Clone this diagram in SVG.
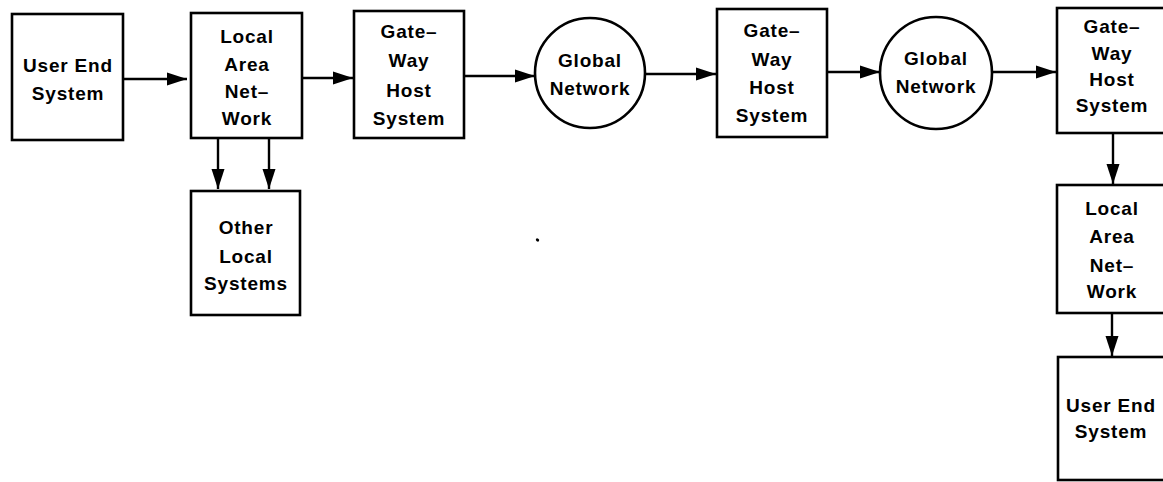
<svg xmlns="http://www.w3.org/2000/svg" width="1163" height="482" viewBox="0 0 1163 482">
  <style>
    .box { fill: #fff; stroke: #000; stroke-width: 2.6; }
    .edge { stroke: #000; stroke-width: 2.4; fill: none; }
    .lbl { font-family: "Liberation Sans", Arial, sans-serif; font-weight: bold; font-size: 19px; letter-spacing: 0.8px; text-anchor: middle; fill: #000; }
  </style>
  <defs>
    <marker id="arrow" markerUnits="userSpaceOnUse" markerWidth="21" markerHeight="14" refX="20" refY="7" orient="auto">
      <path d="M0,0.5 L20,7 L0,13.5 Z" fill="#000"/>
    </marker>
  </defs>

  <rect width="1163" height="482" fill="#fff"/>

  <g id="connectors">
    <line class="edge" x1="123" y1="79" x2="187" y2="79" marker-end="url(#arrow)"/>
    <line class="edge" x1="302" y1="78" x2="353" y2="78" marker-end="url(#arrow)"/>
    <line class="edge" x1="218" y1="138" x2="218" y2="189" marker-end="url(#arrow)"/>
    <line class="edge" x1="269" y1="138" x2="269" y2="189" marker-end="url(#arrow)"/>
    <line class="edge" x1="464" y1="76" x2="535" y2="76" marker-end="url(#arrow)"/>
    <line class="edge" x1="646" y1="74" x2="716" y2="74" marker-end="url(#arrow)"/>
    <line class="edge" x1="827" y1="72" x2="880" y2="72" marker-end="url(#arrow)"/>
    <line class="edge" x1="992" y1="72" x2="1056" y2="72" marker-end="url(#arrow)"/>
    <line class="edge" x1="1113" y1="133" x2="1113" y2="184" marker-end="url(#arrow)"/>
    <line class="edge" x1="1112" y1="313" x2="1112" y2="356" marker-end="url(#arrow)"/>
  </g>

  <g id="user-end-system-1">
    <rect class="box" x="12" y="14" width="111" height="126"/>
    <text class="lbl" x="68" y="72">User End</text>
    <text class="lbl" x="68" y="100">System</text>
  </g>

  <g id="local-area-network-1">
    <rect class="box" x="191" y="13" width="111" height="125"/>
    <text class="lbl" x="247" y="43">Local</text>
    <text class="lbl" x="247" y="71">Area</text>
    <text class="lbl" x="247" y="98">Net–</text>
    <text class="lbl" x="247" y="125">Work</text>
  </g>

  <g id="other-local-systems">
    <rect class="box" x="191" y="191" width="109" height="124"/>
    <text class="lbl" x="246" y="234">Other</text>
    <text class="lbl" x="246" y="263">Local</text>
    <text class="lbl" x="246" y="290">Systems</text>
  </g>

  <g id="gateway-host-1">
    <rect class="box" x="354" y="11" width="110" height="127"/>
    <text class="lbl" x="409" y="38">Gate–</text>
    <text class="lbl" x="409" y="67">Way</text>
    <text class="lbl" x="409" y="97">Host</text>
    <text class="lbl" x="409" y="125">System</text>
  </g>

  <g id="global-network-1">
    <circle class="box" cx="590" cy="73" r="55"/>
    <text class="lbl" x="590" y="67">Global</text>
    <text class="lbl" x="590" y="95">Network</text>
  </g>

  <g id="gateway-host-2">
    <rect class="box" x="717" y="9" width="110" height="128"/>
    <text class="lbl" x="772" y="37">Gate–</text>
    <text class="lbl" x="772" y="66">Way</text>
    <text class="lbl" x="772" y="94">Host</text>
    <text class="lbl" x="772" y="122">System</text>
  </g>

  <g id="global-network-2">
    <circle class="box" cx="936" cy="73" r="56"/>
    <text class="lbl" x="936" y="65">Global</text>
    <text class="lbl" x="936" y="93">Network</text>
  </g>

  <g id="gateway-host-3">
    <rect class="box" x="1057" y="8" width="113" height="125"/>
    <text class="lbl" x="1112" y="33">Gate–</text>
    <text class="lbl" x="1112" y="60">Way</text>
    <text class="lbl" x="1112" y="86">Host</text>
    <text class="lbl" x="1112" y="112">System</text>
  </g>

  <g id="local-area-network-2">
    <rect class="box" x="1057" y="185" width="113" height="128"/>
    <text class="lbl" x="1112" y="215">Local</text>
    <text class="lbl" x="1112" y="243">Area</text>
    <text class="lbl" x="1112" y="272">Net–</text>
    <text class="lbl" x="1112" y="298">Work</text>
  </g>

  <g id="user-end-system-2">
    <rect class="box" x="1058" y="357" width="112" height="123"/>
    <text class="lbl" x="1111" y="412">User End</text>
    <text class="lbl" x="1111" y="438">System</text>
  </g>

  <!-- stray speck -->
  <ellipse cx="537.5" cy="240" rx="1.8" ry="1.4" fill="#000" transform="rotate(35 537.5 240)"/>
</svg>
